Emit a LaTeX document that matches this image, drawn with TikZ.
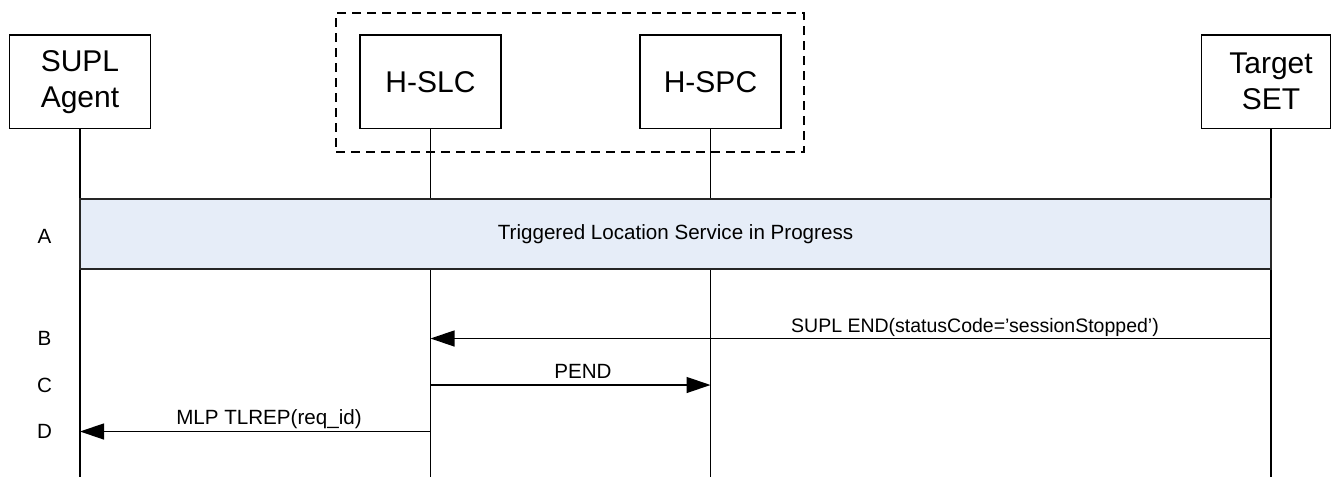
\documentclass[tikz,border=0pt]{standalone}
\usepackage{fontspec}
\setmainfont{Liberation Sans}
\usetikzlibrary{arrows.meta}
\definecolor{bandblue}{HTML}{E6EDF8}
\tikzset{
  entity/.style={draw=black, line width=1.1pt, fill=white, minimum width=141pt, minimum height=93.5pt, inner sep=0pt},
  bigtext/.style={font=\fontsize{30}{36}\selectfont, align=center, inner sep=0pt},
  life/.style={draw=black, line width=1.3pt},
  msg/.style={draw=black, line width=1.3pt, -{Triangle[length=24pt,width=16pt]}},
  lbl/.style={font=\fontsize{20.6}{24}\selectfont, inner sep=0pt, anchor=base},
  rowlbl/.style={font=\fontsize{20.6}{24}\selectfont, inner sep=0pt},
  group/.style={draw=black, line width=1.1pt, dash pattern=on 9pt off 6pt},
  band/.style={draw=black!85, line width=1.1pt, fill=bandblue, inner sep=0pt}
}
\begin{document}
\begin{tikzpicture}[x=1pt,y=-1pt]
\useasboundingbox (0,0) rectangle (1331,477);
% group box
\node[group, minimum width=468pt, minimum height=139pt, inner sep=0pt] (grp) at (570,82.5) {};
% entities
\node[entity, bigtext] (sa) at (80,81.75) {SUPL\\Agent};
\node[entity, bigtext] (slc) at (430.5,81.75) {H-SLC};
\node[entity, bigtext] (spc) at (710.5,81.75) {H-SPC};
\node[entity, minimum width=129pt, anchor=west] (set) at (1201,81.75) {};
\node[bigtext] (settxt) at (1271,81.75) {Target\\SET};
% lifeline end points
\coordinate (saE) at (80,477);
\coordinate (slcE) at (430.5,477);
\coordinate (spcE) at (710.5,477);
\coordinate (setS) at (1271,128.5);
\coordinate (setE) at (1271,477);
\draw[life] (sa.south) -- (saE);
\draw[life] (slc.south) -- (slcE);
\draw[life] (spc.south) -- (spcE);
\draw[life] (setS) -- (setE);
% band
\path[band] (80,199) rectangle (1271,269);
\node[lbl, anchor=center] (bandtxt) at (675.5,234) {Triggered Location Service in Progress};
% row labels
\node[rowlbl] (rA) at (44.5,236) {A};
\node[rowlbl] (rB) at (44.5,338) {B};
\node[rowlbl] (rC) at (44.5,385) {C};
\node[rowlbl] (rD) at (44.5,431.5) {D};
% messages
\coordinate (bS) at (1271,338.5);
\coordinate (bE) at (430.5,338.5);
\draw[msg] (bS) -- (bE);
\node[lbl, font=\fontsize{19.5}{24}\selectfont] (bl) at (975,332) {SUPL END(statusCode=’sessionStopped’)};
\coordinate (cS) at (430.5,385);
\coordinate (cE) at (710.5,385);
\draw[msg] (cS) -- (cE);
\node[lbl] (cl) at (583,378.5) {PEND};
\coordinate (dS) at (430.5,431.5);
\coordinate (dE) at (80,431.5);
\draw[msg] (dS) -- (dE);
\node[lbl] (dl) at (269,424.5) {MLP TLREP(req\_id)};
\end{tikzpicture}
\end{document}
